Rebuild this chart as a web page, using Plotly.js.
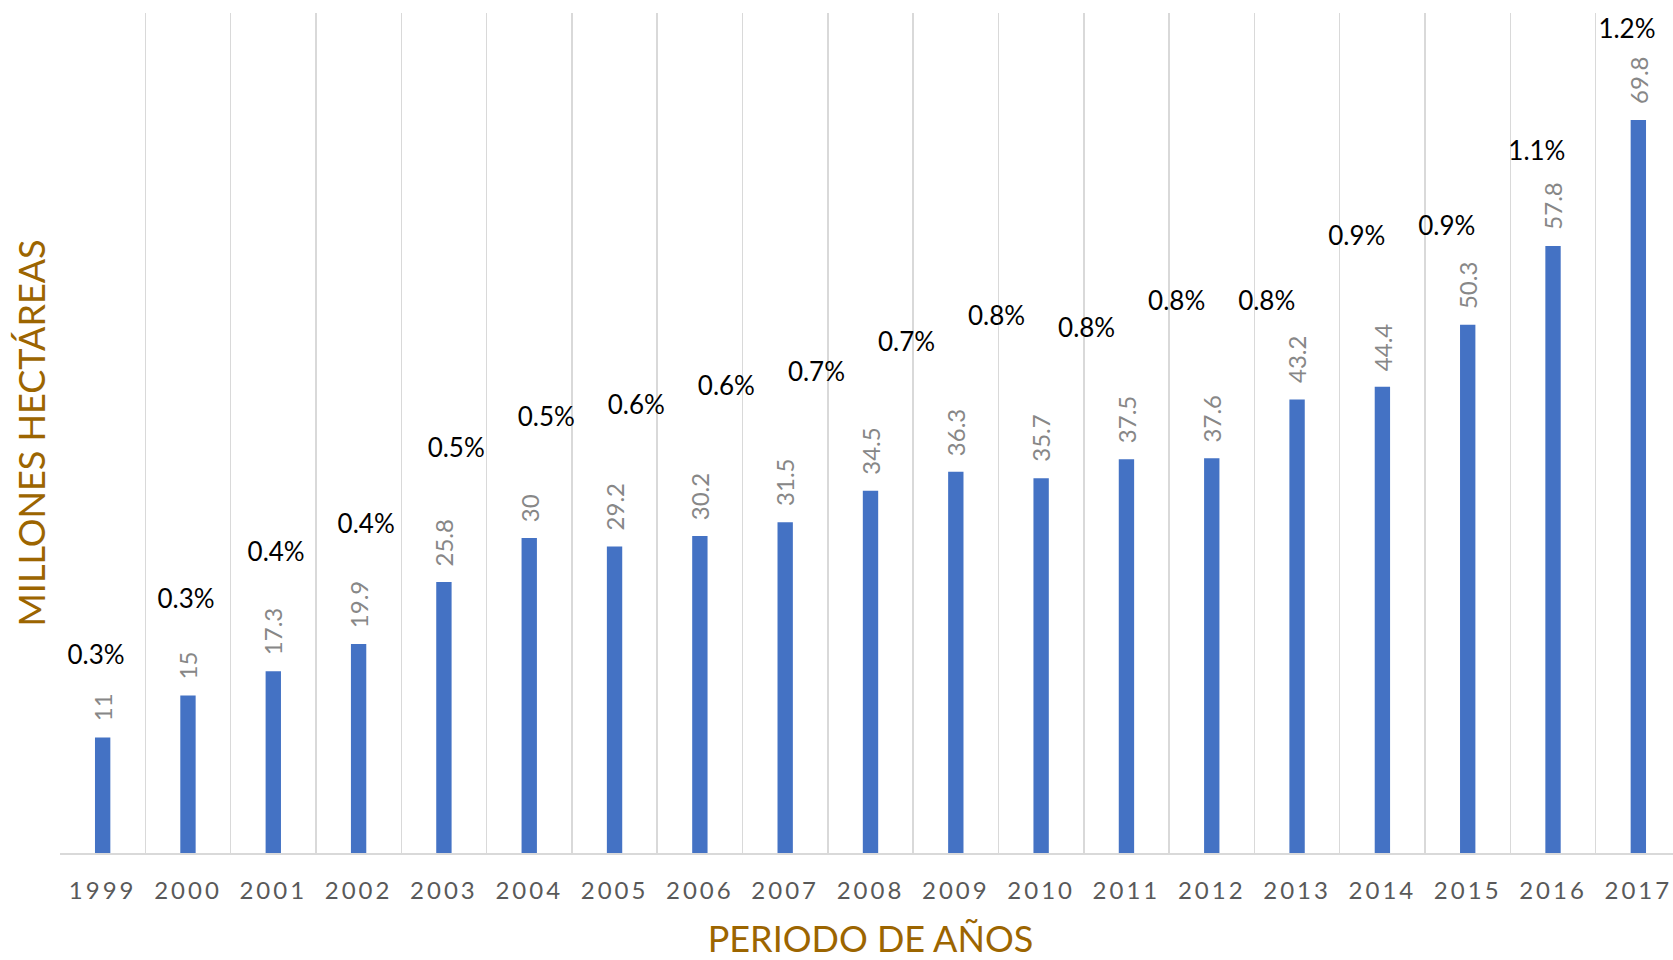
<!DOCTYPE html>
<html><head><meta charset="utf-8">
<script src="https://cdn.plot.ly/plotly-3.0.1.min.js"></script>
<style>
html,body{margin:0;padding:0;overflow:hidden;background:#fff;}
#chart{width:1684px;height:960px;}
.xtick text{letter-spacing:3px;}
</style>
</head><body><div id="chart"></div>
<script>
// Bars: organic area, million hectares
const years = ['1999','2000','2001','2002','2003','2004','2005','2006','2007','2008','2009','2010','2011','2012','2013','2014','2015','2016','2017'];
const hectares = [11, 15, 17.3, 19.9, 25.8, 30, 29.2, 30.2, 31.5, 34.5, 36.3, 35.7, 37.5, 37.6, 43.2, 44.4, 50.3, 57.8, 69.8];
const hectareLabels = ['11','15','17.3','19.9','25.8','30','29.2','30.2','31.5','34.5','36.3','35.7','37.5','37.6','43.2','44.4','50.3','57.8','69.8'];

// Hidden share series (percent of land), plotted on secondary axes, only its labels show
const pctYears = ['1999','2000','2001','2002','2003','2004','2005','2006','2007','2008','2009','2010','2011','2012','2013','2014','2015','2016'];
const pctShare = [0.280, 0.359, 0.427, 0.467, 0.575, 0.619, 0.636, 0.663, 0.684, 0.726, 0.763, 0.747, 0.785, 0.785, 0.878, 0.892, 1.000, 1.174];
const pctLabels = ['0.3%','0.3%','0.4%','0.4%','0.5%','0.5%','0.6%','0.6%','0.7%','0.7%','0.8%','0.8%','0.8%','0.8%','0.9%','0.9%','1.1%','1.2%'];

const FONT = 'Lato, "Open Sans", sans-serif';

const bars = {
  type: 'bar', x: years, y: hectares,
  marker: {color: '#4472C4'},
  hoverinfo: 'skip', showlegend: false
};
const share = {
  type: 'scatter', mode: 'text', x: pctYears, y: pctShare,
  xaxis: 'x2', yaxis: 'y2',
  text: pctLabels, textposition: 'middle center',
  textfont: {family: FONT, size: 26, color: '#000000'},
  hoverinfo: 'skip', showlegend: false, cliponaxis: false
};

// value labels above each bar (category index on the x axis, value on the y axis)
const annotations = years.map((yr, i) => ({
  x: i, y: hectares[i], xref: 'x', yref: 'y',
  text: hectareLabels[i], showarrow: false, textangle: -90,
  xanchor: 'center', yanchor: 'bottom', yshift: 14,
  font: {family: FONT, size: 24, color: '#878787'}
}));

const layout = {
  width: 1684, height: 960,
  margin: {l: 60, r: 3, t: 13, b: 107},
  paper_bgcolor: '#ffffff', plot_bgcolor: '#ffffff',
  bargap: 0.82,
  font: {family: FONT},
  xaxis: {
    type: 'category', tickson: 'boundaries',
    range: [-0.5, 18.5], autorange: false,
    showgrid: true, gridcolor: '#D9D9D9', gridwidth: 1.5,
    showline: true, linecolor: '#D9D9D9', linewidth: 1.5,
    ticks: '', ticklabelstandoff: 16,
    tickangle: 0,
    tickfont: {family: FONT, size: 24, color: '#595959'},
    title: {text: 'PERIODO DE AÑOS', font: {family: FONT, size: 36, color: '#9C6500'}, standoff: 28},
    fixedrange: true
  },
  yaxis: {
    range: [0, 80], autorange: false, showgrid: false, zeroline: false, showline: false,
    showticklabels: false, ticks: '',
    title: {text: 'MILLONES HECTÁREAS', font: {family: FONT, size: 36, color: '#9C6500'}, standoff: 2},
    fixedrange: true
  },
  xaxis2: {
    type: 'category', overlaying: 'x', range: [-0.4, 17.6], autorange: false,
    visible: false, showgrid: false, fixedrange: true
  },
  yaxis2: {
    overlaying: 'y', range: [0, 1.2], autorange: false, visible: false, showgrid: false, fixedrange: true
  },
  annotations: annotations
};

Plotly.newPlot('chart', [bars, share], layout, {staticPlot: true, displayModeBar: false});
</script>
</body></html>
